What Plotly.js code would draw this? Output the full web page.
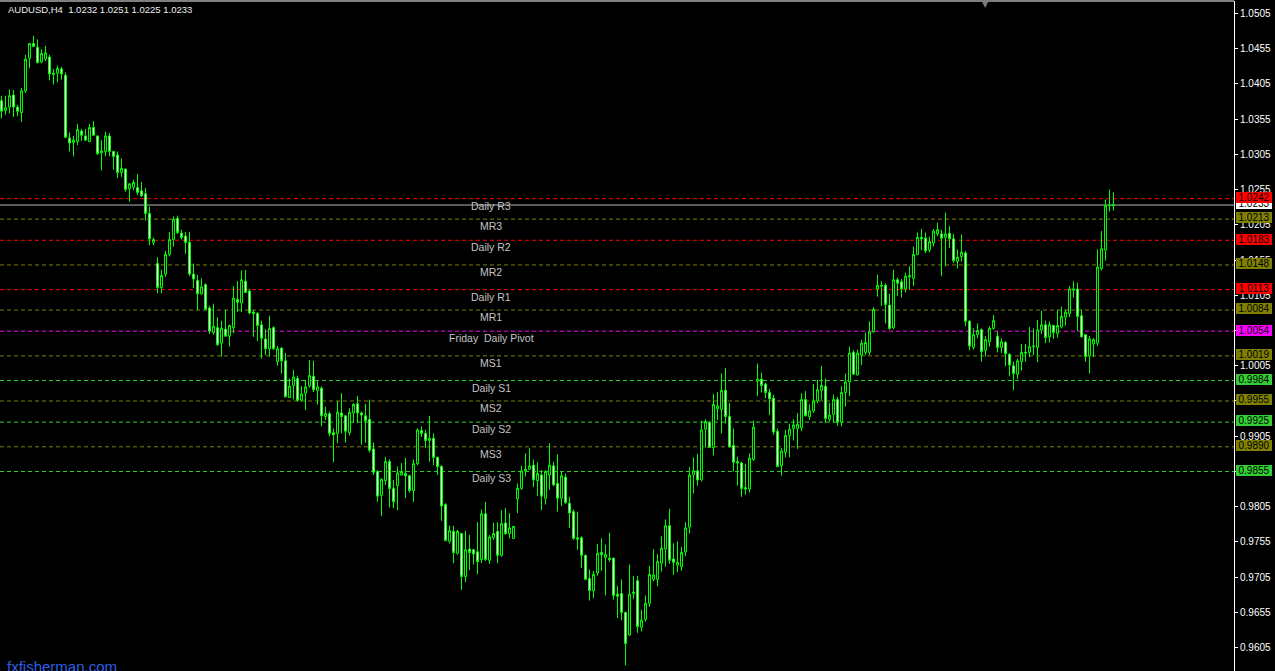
<!DOCTYPE html>
<html><head><meta charset="utf-8">
<script src="https://cdn.plot.ly/plotly-3.0.1.min.js"></script>
<style>html,body{margin:0;padding:0;background:#000;overflow:hidden}#chart{width:1275px;height:671px}</style>
</head><body><div id="chart"></div>
<script>
const symbol = 'AUDUSD', timeframe = 'H4';
const open = [1.0381,1.0367,1.0372,1.0389,1.0372,1.0364,1.0395,1.0441,1.0462,1.0457,
1.0436,1.0440,1.0443,1.0418,1.0420,1.0426,1.0417,1.0328,1.0322,1.0323,
1.0338,1.0331,1.0323,1.0343,1.0331,1.0307,1.0309,1.0331,1.0309,1.0304,
1.0279,1.0284,1.0256,1.0258,1.0258,1.0253,1.0249,1.0221,1.0180,1.0150,
1.0116,1.0135,1.0163,1.0184,1.0214,1.0193,1.0189,1.0180,1.0135,1.0126,
1.0107,1.0120,1.0087,1.0052,1.0059,1.0037,1.0057,1.0047,1.0059,1.0099,
1.0094,1.0125,1.0111,1.0081,1.0079,1.0063,1.0043,1.0029,1.0059,1.0011,
1.0030,1.0012,0.9960,0.9977,0.9987,0.9956,0.9966,0.9976,0.9990,0.9970,
0.9973,0.9933,0.9937,0.9910,0.9909,0.9938,0.9934,0.9910,0.9938,0.9951,
0.9938,0.9934,0.9929,0.9887,0.9855,0.9821,0.9842,0.9869,0.9831,0.9835,
0.9850,0.9852,0.9849,0.9828,0.9866,0.9913,0.9909,0.9899,0.9902,0.9875,
0.9862,0.9808,0.9756,0.9770,0.9739,0.9767,0.9706,0.9745,0.9744,0.9741,
0.9730,0.9795,0.9729,0.9761,0.9770,0.9736,0.9782,0.9767,0.9760,0.9816,
0.9831,0.9856,0.9858,0.9864,0.9842,0.9850,0.9817,0.9850,0.9863,0.9838,
0.9817,0.9847,0.9810,0.9798,0.9761,0.9761,0.9736,0.9703,0.9686,0.9711,
0.9740,0.9733,0.9732,0.9732,0.9681,0.9682,0.9655,0.9623,0.9682,0.9700,
0.9634,0.9645,0.9668,0.9702,0.9702,0.9725,0.9745,0.9778,0.9731,0.9722,
0.9720,0.9741,0.9776,0.9850,0.9856,0.9843,0.9915,0.9924,0.9889,0.9944,
0.9943,0.9970,0.9933,0.9892,0.9869,0.9867,0.9832,0.9830,0.9872,0.9983,
0.9986,0.9979,0.9967,0.9959,0.9912,0.9863,0.9882,0.9906,0.9916,0.9916,
0.9917,0.9957,0.9933,0.9941,0.9955,0.9970,0.9976,0.9929,0.9936,0.9957,
0.9925,0.9967,0.9982,1.0024,0.9992,1.0020,1.0024,1.0024,1.0053,1.0114,
1.0119,1.0119,1.0091,1.0059,1.0127,1.0124,1.0114,1.0131,1.0129,1.0163,
1.0187,1.0186,1.0169,1.0179,1.0192,1.0192,1.0187,1.0193,1.0185,1.0153,
1.0160,1.0165,1.0068,1.0031,1.0049,1.0056,1.0027,1.0039,1.0058,1.0047,
1.0031,1.0038,1.0021,1.0005,0.9993,1.0011,1.0024,1.0024,1.0032,1.0031,
1.0056,1.0063,1.0046,1.0062,1.0051,1.0060,1.0074,1.0079,1.0112,1.0114,
1.0076,1.0049,1.0019,1.0036,1.0037,1.0143,1.0169,1.0232,1.0232];
const high = [1.0388,1.0388,1.0397,1.0396,1.0375,1.0399,1.0446,1.0463,1.0473,1.0468,
1.0454,1.0459,1.0446,1.0426,1.0431,1.0429,1.0421,1.0336,1.0331,1.0348,
1.0341,1.0341,1.0348,1.0352,1.0332,1.0325,1.0337,1.0335,1.0310,1.0309,
1.0299,1.0285,1.0264,1.0269,1.0277,1.0266,1.0257,1.0231,1.0187,1.0159,
1.0141,1.0168,1.0195,1.0217,1.0218,1.0198,1.0195,1.0195,1.0150,1.0134,
1.0129,1.0122,1.0090,1.0093,1.0074,1.0069,1.0084,1.0063,1.0118,1.0125,
1.0140,1.0141,1.0114,1.0084,1.0081,1.0069,1.0057,1.0076,1.0061,1.0033,
1.0031,1.0023,0.9987,0.9999,0.9991,0.9976,0.9985,1.0013,1.0012,0.9983,
0.9976,0.9947,0.9940,0.9916,0.9955,0.9966,0.9935,0.9945,0.9952,0.9962,
0.9940,0.9951,0.9957,0.9896,0.9857,0.9845,0.9876,0.9872,0.9843,0.9862,
0.9867,0.9874,0.9850,0.9872,0.9916,0.9919,0.9914,0.9934,0.9909,0.9876,
0.9864,0.9810,0.9778,0.9778,0.9772,0.9768,0.9771,0.9765,0.9745,0.9783,
0.9801,0.9812,0.9765,0.9782,0.9783,0.9800,0.9803,0.9796,0.9777,0.9838,
0.9863,0.9881,0.9888,0.9872,0.9868,0.9857,0.9857,0.9895,0.9869,0.9879,
0.9855,0.9852,0.9819,0.9801,0.9798,0.9763,0.9737,0.9716,0.9714,0.9752,
0.9760,0.9751,0.9768,0.9733,0.9693,0.9702,0.9656,0.9723,0.9707,0.9707,
0.9659,0.9679,0.9721,0.9745,0.9738,0.9763,0.9787,0.9802,0.9753,0.9756,
0.9748,0.9783,0.9861,0.9875,0.9880,0.9927,0.9929,0.9926,0.9965,0.9968,
0.9994,1.0002,0.9952,0.9916,0.9876,0.9869,0.9866,0.9881,0.9927,1.0008,
0.9995,0.9981,0.9972,0.9964,0.9916,0.9888,0.9914,0.9923,0.9929,0.9938,
0.9966,0.9969,0.9950,0.9979,0.9985,1.0005,0.9987,0.9952,0.9964,0.9961,
0.9976,0.9994,1.0032,1.0027,1.0028,1.0042,1.0052,1.0068,1.0088,1.0134,
1.0125,1.0122,1.0107,1.0141,1.0130,1.0128,1.0137,1.0146,1.0174,1.0194,
1.0199,1.0194,1.0188,1.0199,1.0208,1.0198,1.0222,1.0203,1.0192,1.0170,
1.0191,1.0168,1.0070,1.0058,1.0065,1.0058,1.0047,1.0061,1.0077,1.0054,
1.0044,1.0040,1.0023,1.0011,1.0015,1.0036,1.0036,1.0060,1.0058,1.0070,
1.0083,1.0069,1.0068,1.0063,1.0084,1.0089,1.0084,1.0118,1.0125,1.0123,
1.0085,1.0050,1.0047,1.0044,1.0170,1.0196,1.0241,1.0255,1.0251];
const low = [1.0356,1.0361,1.0363,1.0358,1.0359,1.0351,1.0392,1.0427,1.0457,1.0434,
1.0434,1.0437,1.0410,1.0404,1.0407,1.0411,1.0328,1.0309,1.0302,1.0318,
1.0324,1.0324,1.0322,1.0331,1.0304,1.0282,1.0302,1.0302,1.0283,1.0271,
1.0273,1.0252,1.0238,1.0254,1.0247,1.0245,1.0211,1.0176,1.0176,1.0108,
1.0108,1.0131,1.0160,1.0174,1.0192,1.0184,1.0164,1.0132,1.0115,1.0084,
1.0106,1.0084,1.0050,1.0049,1.0033,1.0018,1.0046,1.0032,1.0051,1.0081,
1.0081,1.0108,1.0078,1.0046,1.0040,1.0015,1.0020,1.0018,1.0028,1.0005,
0.9994,0.9960,0.9959,0.9957,0.9954,0.9954,0.9942,0.9974,0.9968,0.9950,
0.9919,0.9928,0.9905,0.9868,0.9895,0.9909,0.9896,0.9906,0.9924,0.9924,
0.9893,0.9896,0.9882,0.9850,0.9812,0.9792,0.9836,0.9804,0.9803,0.9800,
0.9849,0.9817,0.9825,0.9812,0.9864,0.9904,0.9888,0.9869,0.9864,0.9850,
0.9785,0.9756,0.9753,0.9725,0.9737,0.9687,0.9698,0.9715,0.9723,0.9709,
0.9725,0.9728,0.9724,0.9758,0.9725,0.9734,0.9765,0.9760,0.9759,0.9796,
0.9829,0.9848,0.9857,0.9833,0.9820,0.9800,0.9808,0.9829,0.9834,0.9798,
0.9806,0.9809,0.9775,0.9758,0.9744,0.9718,0.9701,0.9672,0.9675,0.9707,
0.9714,0.9679,0.9727,0.9673,0.9647,0.9644,0.9580,0.9622,0.9674,0.9626,
0.9628,0.9642,0.9663,0.9699,0.9692,0.9713,0.9720,0.9724,0.9708,0.9712,
0.9714,0.9735,0.9767,0.9824,0.9835,0.9841,0.9889,0.9888,0.9878,0.9928,
0.9909,0.9923,0.9889,0.9855,0.9835,0.9819,0.9822,0.9825,0.9870,0.9962,
0.9967,0.9959,0.9935,0.9907,0.9861,0.9849,0.9875,0.9875,0.9899,0.9887,
0.9912,0.9933,0.9928,0.9938,0.9952,0.9957,0.9924,0.9926,0.9924,0.9920,
0.9919,0.9947,0.9962,0.9992,0.9991,1.0006,1.0020,1.0020,1.0052,1.0103,
1.0090,1.0065,1.0056,1.0057,1.0104,1.0102,1.0109,1.0113,1.0118,1.0162,
1.0169,1.0165,1.0166,1.0174,1.0189,1.0132,1.0146,1.0172,1.0151,1.0143,
1.0153,1.0061,1.0027,1.0028,1.0044,1.0011,1.0018,1.0032,1.0056,1.0024,
1.0023,1.0004,0.9990,0.9970,0.9986,0.9998,1.0011,1.0017,1.0020,1.0010,
1.0050,1.0037,1.0038,1.0043,1.0045,1.0058,1.0062,1.0074,1.0102,1.0054,
1.0045,1.0011,0.9994,1.0017,1.0033,1.0140,1.0154,1.0224,1.0225];
const close = [1.0366,1.0371,1.0388,1.0372,1.0366,1.0395,1.0440,1.0462,1.0458,1.0435,
1.0448,1.0449,1.0419,1.0420,1.0427,1.0419,1.0329,1.0321,1.0325,1.0340,
1.0332,1.0325,1.0343,1.0332,1.0306,1.0310,1.0331,1.0309,1.0302,1.0279,
1.0285,1.0255,1.0263,1.0265,1.0251,1.0246,1.0221,1.0185,1.0184,1.0116,
1.0133,1.0163,1.0184,1.0213,1.0194,1.0187,1.0180,1.0135,1.0128,1.0107,
1.0117,1.0085,1.0054,1.0061,1.0035,1.0058,1.0047,1.0062,1.0101,1.0095,
1.0127,1.0109,1.0080,1.0079,1.0062,1.0044,1.0029,1.0058,1.0029,1.0029,
1.0012,0.9961,0.9976,0.9989,0.9956,0.9965,0.9975,0.9991,0.9971,0.9975,
0.9934,0.9937,0.9909,0.9907,0.9939,0.9933,0.9912,0.9939,0.9950,0.9938,
0.9935,0.9927,0.9885,0.9854,0.9820,0.9844,0.9869,0.9831,0.9812,0.9853,
0.9855,0.9849,0.9828,0.9866,0.9914,0.9909,0.9899,0.9902,0.9875,0.9862,
0.9806,0.9757,0.9771,0.9740,0.9770,0.9706,0.9744,0.9740,0.9738,0.9727,
0.9795,0.9730,0.9762,0.9767,0.9736,0.9781,0.9767,0.9775,0.9777,0.9831,
0.9856,0.9858,0.9863,0.9843,0.9852,0.9820,0.9855,0.9864,0.9836,0.9817,
0.9849,0.9811,0.9796,0.9760,0.9759,0.9736,0.9702,0.9686,0.9709,0.9739,
0.9737,0.9737,0.9730,0.9679,0.9678,0.9655,0.9611,0.9681,0.9684,0.9635,
0.9644,0.9668,0.9709,0.9708,0.9727,0.9746,0.9778,0.9729,0.9726,0.9726,
0.9740,0.9775,0.9850,0.9856,0.9843,0.9914,0.9926,0.9889,0.9950,0.9948,
0.9970,0.9933,0.9890,0.9868,0.9867,0.9831,0.9830,0.9874,0.9918,0.9986,
0.9977,0.9967,0.9958,0.9911,0.9862,0.9884,0.9906,0.9915,0.9921,0.9922,
0.9957,0.9934,0.9941,0.9955,0.9971,0.9977,0.9930,0.9935,0.9957,0.9925,
0.9967,0.9982,1.0023,0.9993,1.0023,1.0037,1.0038,1.0053,1.0085,1.0119,
1.0118,1.0092,1.0058,1.0127,1.0122,1.0114,1.0132,1.0133,1.0163,1.0187,
1.0185,1.0168,1.0181,1.0196,1.0198,1.0186,1.0192,1.0185,1.0154,1.0159,
1.0166,1.0068,1.0033,1.0049,1.0055,1.0025,1.0042,1.0058,1.0069,1.0031,
1.0039,1.0022,1.0006,0.9994,1.0012,1.0024,1.0023,1.0032,1.0033,1.0056,
1.0063,1.0045,1.0063,1.0052,1.0062,1.0075,1.0081,1.0114,1.0114,1.0075,
1.0046,1.0018,1.0043,1.0042,1.0145,1.0171,1.0232,1.0233,1.0233];

const levelNames  = ['Daily R3','MR3','Daily R2','MR2','Daily R1','MR1','Friday\u00a0 Daily Pivot','MS1','Daily S1','MS2','Daily S2','MS3','Daily S3'];
const levelValues = [1.0242, 1.0213, 1.0183, 1.0148, 1.0113, 1.0084, 1.0054, 1.0019, 0.9984, 0.9955, 0.9925, 0.9890, 0.9855];
const levelKinds  = ['R','M','R','M','R','M','P','M','S','M','S','M','S'];
const priceTicks  = ['1.0505','1.0455','1.0405','1.0355','1.0305','1.0255','1.0205','1.0155','1.0105','1.0055','1.0005','0.9955','0.9905','0.9855','0.9805','0.9755','0.9705','0.9655','0.9605'];
const siteName = 'fxfisherman.com';

// ---- styling / layout ----
const kindColor = {R:'#ff0000', M:'#808000', P:'#ff00ff', S:'#32cd32'};
const PLOT_W = 1234;
const last = close.length - 1;
const idx = open.map((_, i) => i);
const bid = close[last];
const fmt = v => v.toFixed(4);

const shapes = [];
levelValues.forEach((v, i) => {
  shapes.push({type:'line', xref:'paper', x0:0, x1:1, yref:'y', y0:v, y1:v, layer:'below',
    line:{color:kindColor[levelKinds[i]], width:1, dash:'4px,3px'}});
});
shapes.push({type:'line', xref:'paper', x0:0, x1:1, yref:'y', y0:bid, y1:bid, layer:'below',
  line:{color:'#b4b4b4', width:1}});
shapes.push({type:'line', xref:'paper', x0:0, x1:1, yref:'paper', y0:1, y1:1,
  line:{color:'#ffffff', width:1}});

const annotations = [];
const labelX = 491 / PLOT_W;
levelValues.forEach((v, i) => {
  annotations.push({xref:'paper', x:labelX, xanchor:'center', yref:'y', y:v, yanchor:'middle', yshift:-7,
    text:levelNames[i], showarrow:false,
    font:{family:'Liberation Sans, Arial, sans-serif', size:10.5, color:'#c4c4c4'}});
});
const boxX = 1254 / PLOT_W;
const boxAnn = (v, bg) => ({xref:'paper', x:boxX, xanchor:'center', yref:'y', y:v, yanchor:'middle', yshift:1.2,
  text:fmt(v), showarrow:false, bgcolor:bg, borderpad:0, borderwidth:0, width:36, height:11,
  font:{family:'Liberation Sans, Arial, sans-serif', size:10, color:'#000000'}});
annotations.push(boxAnn(bid, '#ffffff'));
levelValues.forEach((v, i) => annotations.push(boxAnn(v, kindColor[levelKinds[i]])));

annotations.push({xref:'paper', x:6 / PLOT_W, xanchor:'left', yref:'paper', y:1 - 8.5 / 670, yanchor:'middle',
  text:`${symbol},${timeframe}\u00a0 ${fmt(open[last])} ${fmt(high[last])} ${fmt(low[last])} ${fmt(close[last])}`,
  showarrow:false, font:{family:'Liberation Sans, Arial, sans-serif', size:9.5, color:'#ececec'}});
annotations.push({xref:'paper', x:5 / PLOT_W, xanchor:'left', yref:'paper', y:1 - 655 / 670, yanchor:'top',
  text:siteName, showarrow:false, font:{family:'Liberation Sans, Arial, sans-serif', size:15, color:'#2f5fe6'}});
annotations.push({xref:'paper', x:985 / PLOT_W, xanchor:'center', yref:'paper', y:1, yanchor:'top', yshift:3,
  text:'\u25BC', showarrow:false, font:{family:'DejaVu Sans', size:8, color:'#7a7a7a'}});

const trace = {
  type:'candlestick', x:idx, open:open, high:high, low:low, close:close,
  increasing:{line:{color:'#00ff00', width:1}, fillcolor:'#000000'},
  decreasing:{line:{color:'#00ff00', width:1}, fillcolor:'#ffffff'},
  whiskerwidth:0, hoverinfo:'none', showlegend:false
};

const layout = {
  width:1275, height:671,
  margin:{l:0, r:41, t:1, b:0, pad:0},
  paper_bgcolor:'#000000', plot_bgcolor:'#000000',
  showlegend:false, hovermode:false, dragmode:false,
  xaxis:{range:[-0.375, 308.125], visible:false, rangeslider:{visible:false}, fixedrange:true},
  yaxis:{side:'right', range:[0.957194, 1.052245], tickmode:'array',
    tickvals:priceTicks.map(Number), ticktext:priceTicks,
    ticks:'outside', ticklen:3, tickwidth:1, tickcolor:'#ffffff',
    showline:true, linecolor:'#ffffff', linewidth:1, showgrid:false, zeroline:false,
    tickfont:{family:'Liberation Sans, Arial, sans-serif', size:10, color:'#ffffff'}, fixedrange:true},
  shapes:shapes, annotations:annotations
};

Plotly.newPlot('chart', [trace], layout, {staticPlot:true, displayModeBar:false});
</script>
</body></html>
